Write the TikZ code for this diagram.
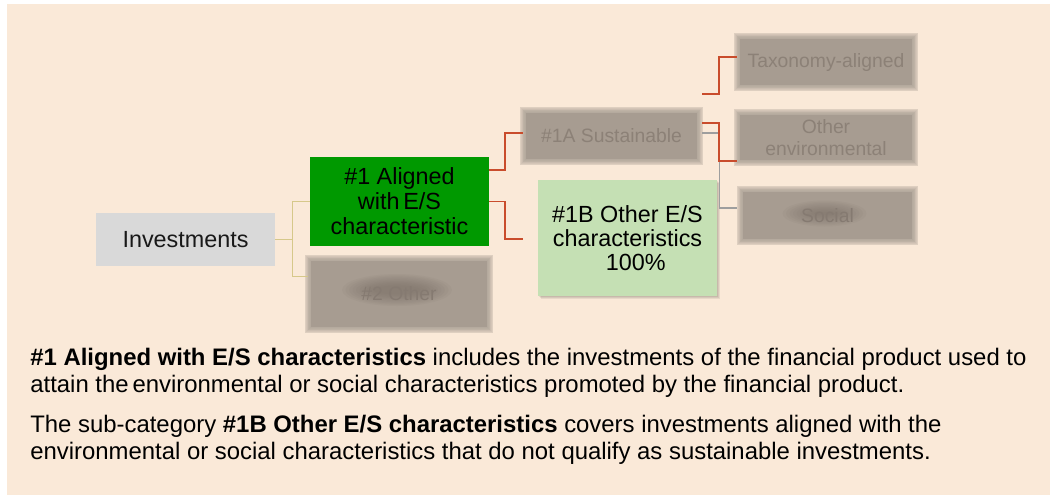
\documentclass[tikz,border=0pt]{standalone}
\usepackage{fontspec}
\setmainfont{Liberation Sans}
\usetikzlibrary{calc, backgrounds}

\pgfdeclarelayer{haze}
\pgfsetlayers{background,haze,main}

\definecolor{peach}{RGB}{250,233,216}
\definecolor{rootgrey}{RGB}{217,217,217}
\definecolor{aligngreen}{RGB}{0,153,0}
\definecolor{subgreen}{RGB}{197,224,180}
\definecolor{hazefill}{RGB}{167,156,145}
\definecolor{hazetext}{RGB}{140,129,119}
\definecolor{hazeblob}{RGB}{118,108,99}
\definecolor{khaki}{RGB}{214,200,138}
\definecolor{rust}{RGB}{201,76,44}
\definecolor{linkgrey}{RGB}{158,158,158}

% soft-edged box behind a node
\newcommand\haze[1]{%
  \begin{pgfonlayer}{haze}
    \fill[hazefill] ($(#1.south west)+(3,-3)$) rectangle ($(#1.north east)+(-3,3)$);
    \foreach \d in {0,...,8}
      \fill[hazefill, opacity=0.18] ($(#1.south west)+({3-0.75*\d},{0.75*\d-3})$) rectangle ($(#1.north east)+({0.75*\d-3},{3-0.75*\d})$);
  \end{pgfonlayer}}

% dark smear where a word is washed out: #1 centre, #2 half width, #3 half height
\newcommand\smear[3]{%
  \begin{pgfonlayer}{haze}
    \foreach \k in {0,...,9}
      \fill[hazeblob, opacity=0.08] (#1) ellipse ({#2-3.5*\k} and {#3-1.3*\k});
  \end{pgfonlayer}}

\begin{document}
\begin{tikzpicture}[
  x=0.02cm, y=-0.02cm,
  box/.style={rectangle, inner sep=0pt, align=center, font=\fontsize{13.3}{14.2}\selectfont},
  root/.style={box, fill=rootgrey, text=black!90},
  cat/.style={box, fill=aligngreen, text=black},
  sub/.style={box, fill=subgreen, text=black, font=\fontsize{13.3}{13.8}\selectfont},
  hazy/.style={box, text=hazetext, font=\fontsize{11}{12.5}\selectfont},
  hazier/.style={hazy, text=hazeblob!70!hazefill},
  link/.style={khaki, line width=0.9pt},
  rlink/.style={rust, line width=1.1pt},
  glink/.style={linkgrey, line width=0.6pt},
  note/.style={font=\fontsize{13.6}{15.3}\selectfont, align=left, inner sep=0pt, anchor=north west, text=black},
]
\useasboundingbox (0,0) rectangle (1050,495);
\begin{pgfonlayer}{background}
  \fill[white] (0,0) rectangle (1050,495);
  \fill[peach] (7,4) rectangle (1050,495);
\end{pgfonlayer}

% tree
\node[root, minimum width=3.58cm, minimum height=1.06cm] (inv) at (185.5,239.5) {Investments};
\node[cat, minimum width=3.58cm, minimum height=1.78cm] (alg) at (399.5,201.5) {\#1 Aligned\\with\,E/S\\characteristic};
\node[hazier, minimum width=3.64cm, minimum height=1.44cm] (oth) at (399,294) {\#2 Other};
\node[hazy, minimum width=3.54cm, minimum height=1.04cm] (sus) at (611.5,136) {\#1A Sustainable};
\node[sub, minimum width=3.58cm, minimum height=2.32cm] (oes) at (627.5,238) {\#1B Other E/S\\characteristics\\\hspace*{0.7em}100\%};
\node[hazy, minimum width=3.56cm, minimum height=1.04cm] (tax) at (826,62) {Taxonomy-aligned};
\node[hazy, minimum width=3.56cm, minimum height=1.02cm] (env) at (826,137.5) {Other\\environmental};
\node[hazier, minimum width=3.5cm, minimum height=1.06cm] (soc) at (827.5,215.5) {Social};

\haze{oth}
\haze{sus}
\haze{tax}
\haze{env}
\haze{soc}
\smear{$(oth)+(-2,-4)$}{55}{16}
\smear{$(soc)+(-3,-2)$}{42}{13}

% light shadow under the 100% box
\begin{pgfonlayer}{haze}
  \foreach \s in {1,2,3}
    \fill[black, opacity=0.07] ($(oes.south west)+(\s,\s)$) rectangle ($(oes.north east)+(\s,\s)$);
\end{pgfonlayer}

\coordinate (oesin) at ($(oes.west)+(-15,1)$);
\coordinate (susup) at ($(sus.north east)+(2,-16)$);

\draw[link] (inv.east) -- ++(17,0) |- (alg.west);
\draw[link] (inv.east) -- ++(17,0) |- ($(oth.north west)+(0,19)$);
\draw[rlink] ($(alg.east)+(0,-31.5)$) -- ++(16,0) |- ($(sus.west)+(0,-3)$);
\draw[rlink] (alg.east) -- ++(16,0) |- (oesin);
\draw[glink] ($(sus.east)+(2,-3)$) -- ++(17,0) |- ($(soc.west)+(-3,-7.5)$);
\draw[rlink] (susup) -- ++(17,0) |- ($(tax.west)+(0,-5)$);
\draw[rlink] ($(sus.east)+(2,-13)$) -- ++(17,0) |- ($(env.south west)+(0,-2)$);

% explanation
\node[note] (n1) at (30,348) {\textbf{\#1 Aligned with E/S characteristics} includes the investments of the financial product used to\\attain the\,environmental or social characteristics promoted by the financial product.};
\node[note] (n2) at (30,415) {The sub-category \textbf{\#1B Other E/S characteristics} covers investments aligned with the\\environmental or social characteristics that do not qualify as sustainable investments.};
\end{tikzpicture}
\end{document}
